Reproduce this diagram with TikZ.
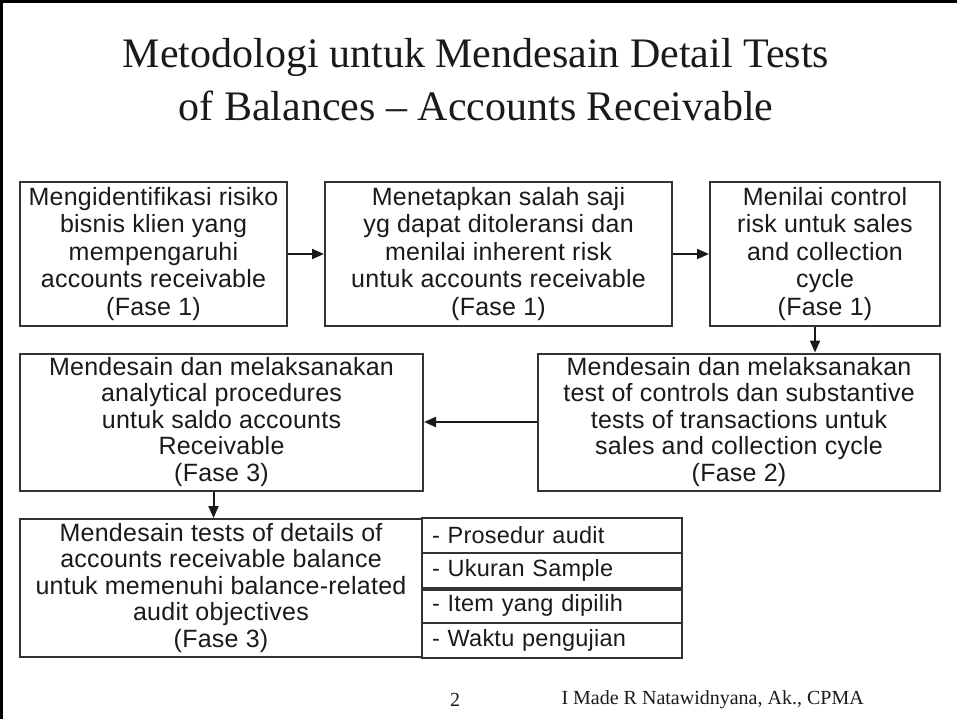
\documentclass[tikz,border=0pt]{standalone}
\usepackage{fontspec}
\setmainfont{Liberation Serif}
\setsansfont{Liberation Sans}
\newfontfamily\boxfont{Liberation Sans}[LetterSpace=1]
\usetikzlibrary{arrows.meta,positioning}
\definecolor{ink}{HTML}{1A1A1A}
\definecolor{edge}{HTML}{333333}
\tikzset{
  box/.style={draw=edge,line width=2pt,fill=white,inner sep=0pt,align=center,text=ink,font=\boxfont\fontsize{25}{26.5}\selectfont},
  boxt/.style={box,font=\boxfont\fontsize{25}{27.5}\selectfont,minimum height=144pt},
  row/.style={draw=edge,line width=2pt,fill=white,inner xsep=10pt,inner ysep=0pt,text width=240pt,minimum height=35pt,align=left,text=ink,font=\boxfont\fontsize{23.5}{25}\selectfont},
  ttl/.style={align=center,text=ink,font=\fontsize{42}{53}\selectfont},
  foot/.style={text=ink,font=\fontsize{20}{22}\selectfont},
  ar/.style={-{Triangle[length=12pt,width=10pt]},draw=ink,line width=2pt},
}
\begin{document}
\begin{tikzpicture}[x=1pt,y=-1pt]
  \useasboundingbox (0,0) rectangle (957,719);
  \draw[line width=3pt] (1.2,719) -- (1.2,1.5) -- (957,1.5);
  \node[ttl] (title) at (476,80) {Metodologi untuk Mendesain Detail Tests\\of Balances – Accounts Receivable};
  % fase 1
  \node[boxt,minimum width=267pt] (bisnis) at (153.5,254)
    {Mengidentifikasi risiko\\bisnis klien yang\\mempengaruhi\\accounts receivable\\(Fase 1)};
  \node[boxt,minimum width=347pt] (salah) at (498.5,254)
    {Menetapkan salah saji\\yg dapat ditoleransi dan\\menilai inherent risk\\untuk accounts receivable\\(Fase 1)};
  \node[boxt,minimum width=230pt] (control) at (825,254)
    {Menilai control\\risk untuk sales\\and collection\\cycle\\(Fase 1)};
  % fase 2 dan 3
  \node[box,minimum width=402pt,minimum height=137pt] (toc) at (739,422)
    {Mendesain dan melaksanakan\\test of controls dan substantive\\tests of transactions untuk\\sales and collection cycle\\(Fase 2)};
  \node[box,minimum width=403pt,minimum height=137pt] (analitis) at (221.5,422)
    {Mendesain dan melaksanakan\\analytical procedures\\untuk saldo accounts\\Receivable\\(Fase 3)};
  \node[box,minimum width=402pt,minimum height=138pt] (detail) at (221,588)
    {Mendesain tests of details of\\accounts receivable balance\\untuk memenuhi balance-related\\audit objectives\\(Fase 3)};
  \foreach \i/\lbl in {1/Prosedur audit,2/Ukuran Sample,3/Item yang dipilih,4/Waktu pengujian} {
    \node[row] (r\i) at (552,500.5+\i*35) {- \lbl};
  }
  \draw[edge,line width=3.5pt] (r2.south west) -- (r2.south east);
  \draw[ar] (bisnis.east) -- (salah.west);
  \draw[ar] (salah.east) -- (control.west);
  \draw[ar] ([xshift=-10pt]control.south) -- ([xshift=-10pt]control.south |- toc.north);
  \draw[ar] (toc.west) -- (analitis.east);
  \draw[ar] ([xshift=-8pt]analitis.south) -- ([xshift=-8pt]analitis.south |- detail.north);
  \node[foot] (hal) at (455,700) {2};
  \node[foot,anchor=west] (penulis) at (558,700) {I Made R Natawidnyana, Ak., CPMA};
\end{tikzpicture}
\end{document}
